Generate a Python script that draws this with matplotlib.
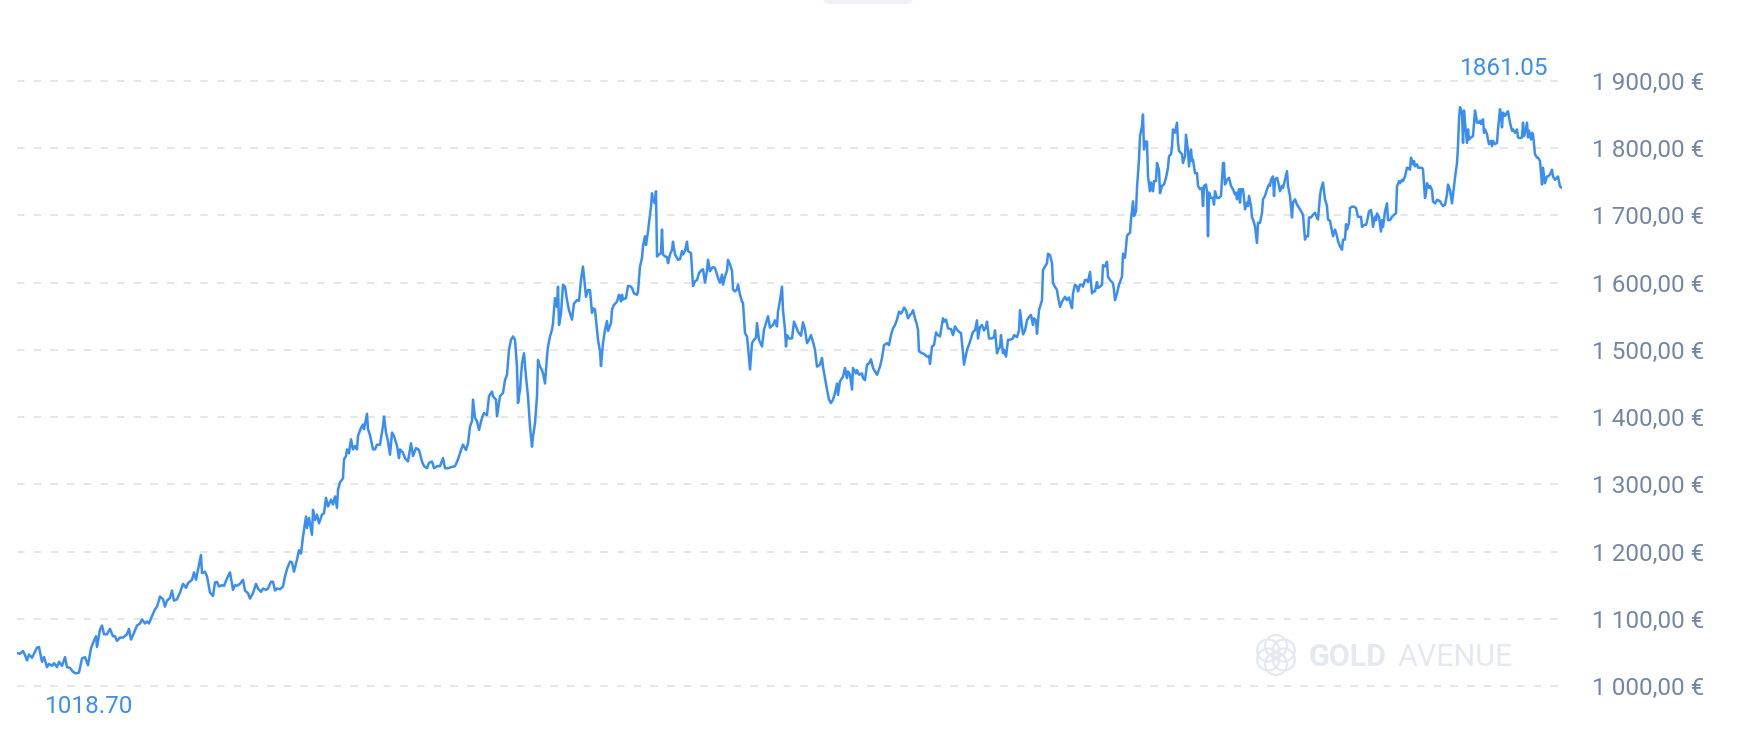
import matplotlib
matplotlib.use("Agg")
import math
import matplotlib.pyplot as plt
from matplotlib.patches import FancyBboxPatch, Circle
from matplotlib.ticker import FixedLocator, FuncFormatter

# ---------------- data: (day index, price in EUR) ----------------
seg_2018 = [(0, 1049), (3, 1048), (6, 1052), (8, 1046), (10, 1038), (12, 1047), (15, 1042), (17, 1048),
            (20, 1057), (22, 1058), (25, 1036), (27, 1043), (30, 1028), (32, 1033), (35, 1030), (37, 1034),
            (40, 1028), (42, 1036), (45, 1030), (48, 1043), (50, 1028), (53, 1027), (56, 1021), (59, 1018.70),
            (62, 1020), (65, 1041), (68, 1043), (71, 1031), (74, 1056), (76, 1064), (79, 1074), (80, 1058),
            (83, 1084), (85, 1090), (87, 1077), (90, 1077), (93, 1085), (96, 1074), (98, 1074), (100, 1067),
            (103, 1072), (106, 1072), (110, 1077), (112, 1085), (114, 1069), (117, 1079), (120, 1090),
            (123, 1093), (125, 1099), (128, 1093), (130, 1096), (132, 1093), (135, 1104), (138, 1114),
            (140, 1118), (143, 1133), (146, 1129), (148, 1118), (150, 1127), (153, 1131), (155, 1142),
            (157, 1127), (160, 1129), (163, 1139), (166, 1152), (169, 1146), (171, 1153), (175, 1158),
            (177, 1169), (179, 1158), (181, 1173), (184, 1195), (185, 1168), (188, 1170), (190, 1163),
            (193, 1139)]

seg_2019 = [(196, 1134), (198, 1154), (200, 1155), (202, 1148), (205, 1150), (207, 1149), (210, 1160),
            (213, 1169), (216, 1143), (218, 1150), (220, 1149), (223, 1152), (226, 1158), (228, 1142),
            (231, 1138), (233, 1130), (236, 1138), (239, 1152), (241, 1145), (244, 1140), (246, 1145),
            (249, 1143), (251, 1145), (254, 1155), (256, 1155), (258, 1142), (260, 1145), (263, 1144),
            (266, 1148), (268, 1163), (270, 1174), (273, 1185), (275, 1184), (277, 1170), (280, 1188),
            (282, 1202), (284, 1197), (286, 1222), (287, 1232), (289, 1252), (290, 1235), (292, 1250),
            (295, 1225), (296, 1262), (298, 1247), (300, 1255), (302, 1242), (305, 1255), (307, 1257),
            (309, 1280), (311, 1267), (314, 1277), (316, 1270), (318, 1282), (320, 1265), (321, 1292),
            (323, 1303), (326, 1309), (327, 1337), (329, 1342), (330, 1352), (332, 1346), (334, 1367),
            (336, 1352), (338, 1357), (340, 1352), (341, 1372), (344, 1384), (346, 1389), (347, 1382),
            (350, 1405), (351, 1382), (353, 1373), (356, 1352), (358, 1352), (360, 1359), (363, 1359),
            (366, 1387), (367, 1401), (369, 1377), (371, 1364), (373, 1344), (375, 1377), (377, 1372),
            (380, 1357), (382, 1339), (383, 1352)]

seg_2020a = [(386, 1347), (388, 1339), (391, 1334), (394, 1361), (396, 1342), (399, 1354), (402, 1351),
             (405, 1334), (407, 1327), (410, 1324), (412, 1332), (415, 1334), (417, 1324), (420, 1327),
             (423, 1327), (426, 1339), (428, 1324), (431, 1324), (435, 1326), (438, 1327), (441, 1337),
             (444, 1351), (446, 1359), (449, 1351), (451, 1361), (453, 1386), (455, 1394), (456, 1426),
             (458, 1399), (460, 1394), (462, 1381), (465, 1399), (467, 1406), (470, 1403), (472, 1431),
             (475, 1438), (476, 1431), (479, 1426), (480, 1401), (483, 1431), (486, 1436), (488, 1455),
             (490, 1463), (492, 1500), (494, 1515), (496, 1520), (498, 1515), (500, 1475), (501, 1421),
             (503, 1441), (505, 1480), (507, 1495), (509, 1460), (511, 1431), (513, 1386), (515, 1356),
             (516, 1371), (518, 1391), (520, 1431), (521, 1485), (523, 1475), (525, 1470), (526, 1465),
             (528, 1450), (530, 1490), (531, 1505), (533, 1520), (535, 1530), (536, 1540), (538, 1577),
             (540, 1564), (541, 1594), (542, 1537), (544, 1554), (546, 1597), (548, 1594), (550, 1574),
             (552, 1559), (555, 1545), (557, 1569), (560, 1574), (562, 1573), (564, 1604), (566, 1624),
             (567, 1609), (569, 1579), (571, 1589), (573, 1589)]

seg_2020b = [(575, 1555), (576, 1562), (578, 1560), (580, 1530), (581, 1515), (583, 1498), (584, 1476),
             (586, 1510), (588, 1530), (590, 1543), (591, 1528), (594, 1540), (595, 1560), (597, 1567),
             (599, 1570), (600, 1572), (602, 1582), (604, 1572), (605, 1582), (606, 1575), (609, 1577),
             (611, 1595), (613, 1595), (615, 1592), (617, 1584), (620, 1582), (621, 1587), (623, 1624),
             (625, 1637), (626, 1654), (628, 1669), (629, 1656), (631, 1676), (632, 1689), (634, 1713),
             (635, 1733), (636, 1723), (638, 1718), (639, 1736), (640, 1639), (642, 1642), (644, 1644),
             (645, 1679), (646, 1642), (648, 1639), (650, 1638), (651, 1629), (653, 1642), (655, 1649),
             (656, 1661), (658, 1642), (660, 1637), (661, 1634), (663, 1635), (665, 1647), (666, 1642),
             (668, 1647), (670, 1661), (671, 1647), (674, 1644), (675, 1619), (676, 1595), (678, 1602),
             (680, 1604), (682, 1614), (684, 1618), (686, 1620), (688, 1600), (690, 1618), (691, 1634),
             (693, 1617), (695, 1622), (696, 1623), (698, 1622), (700, 1612), (701, 1607), (703, 1600),
             (705, 1612), (706, 1597), (708, 1609), (710, 1618), (711, 1634), (713, 1627), (715, 1618),
             (716, 1590), (718, 1587), (720, 1590), (721, 1597), (723, 1582), (725, 1572), (726, 1570),
             (728, 1525), (730, 1520), (731, 1505), (733, 1471), (735, 1510), (737, 1515), (739, 1518),
             (740, 1540), (742, 1515), (745, 1505), (747, 1530), (749, 1540), (751, 1550), (753, 1533)]

seg_2021 = [(756, 1537), (758, 1544), (760, 1535), (761, 1557), (763, 1574), (765, 1594), (766, 1559),
            (768, 1530), (769, 1505), (770, 1522), (772, 1517), (775, 1517), (777, 1542), (779, 1535),
            (781, 1527), (784, 1521), (786, 1541), (788, 1530), (790, 1510), (792, 1515), (794, 1522),
            (796, 1512), (798, 1500), (800, 1475), (803, 1478), (805, 1488), (806, 1475), (808, 1458),
            (810, 1441), (812, 1426), (814, 1421), (816, 1426), (818, 1436), (820, 1450), (821, 1433),
            (823, 1453), (825, 1458), (826, 1460), (828, 1473), (830, 1458), (831, 1468), (833, 1463),
            (835, 1441), (836, 1473), (839, 1465), (840, 1470), (842, 1463), (845, 1465), (846, 1458),
            (848, 1455), (850, 1478), (852, 1480), (854, 1486), (856, 1473), (858, 1468), (860, 1463),
            (863, 1475), (865, 1488), (867, 1507), (870, 1510), (872, 1507), (874, 1522), (876, 1532),
            (878, 1537), (880, 1545), (882, 1557), (884, 1554), (886, 1559), (887, 1563), (889, 1559),
            (891, 1547), (893, 1552), (895, 1555), (896, 1559), (898, 1547), (900, 1537), (901, 1530),
            (902, 1498), (905, 1495), (907, 1494), (910, 1490), (912, 1491), (913, 1479), (915, 1505),
            (917, 1507), (919, 1526), (921, 1522), (923, 1520), (926, 1547), (927, 1542), (929, 1545),
            (931, 1532), (934, 1531), (936, 1522), (938, 1535), (940, 1530), (942, 1527), (944, 1525),
            (946, 1495), (947, 1478), (950, 1500), (953, 1512)]

seg_2022a = [(956, 1527), (958, 1529), (960, 1544), (961, 1517), (963, 1534), (965, 1537), (967, 1529),
             (969, 1534), (970, 1542), (972, 1517), (975, 1517), (977, 1519), (978, 1529), (980, 1495),
             (981, 1500), (983, 1504), (984, 1522), (986, 1495), (987, 1500), (989, 1490), (991, 1515),
             (993, 1515), (996, 1517), (997, 1522), (1000, 1519), (1002, 1529), (1003, 1559), (1005, 1534),
             (1006, 1523), (1008, 1529), (1010, 1544), (1012, 1549), (1014, 1552), (1016, 1537),
             (1017, 1547), (1019, 1544), (1020, 1524), (1022, 1559), (1024, 1569), (1025, 1574),
             (1026, 1619), (1028, 1624), (1030, 1629), (1031, 1643), (1033, 1641), (1035, 1629),
             (1036, 1599), (1038, 1594), (1040, 1589), (1041, 1579), (1043, 1564), (1045, 1572),
             (1046, 1574), (1048, 1579), (1050, 1574), (1052, 1578), (1053, 1572), (1055, 1562),
             (1056, 1584), (1058, 1597), (1060, 1594), (1061, 1587), (1063, 1597), (1065, 1597),
             (1066, 1594), (1068, 1604), (1070, 1604), (1071, 1601), (1073, 1616), (1075, 1584),
             (1076, 1587), (1078, 1587), (1080, 1601), (1081, 1592), (1083, 1594), (1085, 1597),
             (1086, 1626), (1088, 1624), (1090, 1631), (1091, 1609), (1093, 1604), (1096, 1599),
             (1097, 1589), (1098, 1574), (1100, 1584), (1102, 1597), (1105, 1609), (1106, 1643),
             (1108, 1637), (1110, 1669), (1111, 1672), (1113, 1674), (1114, 1694), (1116, 1721),
             (1117, 1699), (1119, 1706), (1120, 1741), (1122, 1783), (1123, 1818), (1125, 1833),
             (1126, 1850), (1127, 1798), (1128, 1810), (1130, 1810), (1131, 1758), (1133, 1736),
             (1134, 1749), (1136, 1736), (1137, 1751), (1139, 1751), (1140, 1778), (1142, 1768),
             (1143, 1733)]

seg_2022b = [(1145, 1744), (1147, 1746), (1149, 1756), (1151, 1771), (1152, 1788), (1154, 1791),
             (1155, 1803), (1156, 1828), (1158, 1823), (1160, 1838), (1161, 1808), (1162, 1796),
             (1165, 1791), (1166, 1778), (1168, 1788), (1169, 1820), (1171, 1796), (1172, 1773),
             (1174, 1798), (1175, 1781), (1176, 1783), (1178, 1763), (1180, 1763), (1181, 1744),
             (1183, 1739), (1185, 1741), (1186, 1714), (1187, 1744), (1189, 1746), (1190, 1736),
             (1191, 1669), (1192, 1734), (1194, 1726), (1196, 1726), (1197, 1716), (1198, 1736),
             (1200, 1726), (1202, 1726), (1204, 1729), (1206, 1778), (1207, 1778), (1208, 1746),
             (1210, 1753), (1212, 1756), (1214, 1744), (1216, 1739), (1218, 1731), (1219, 1734),
             (1220, 1724), (1222, 1739), (1223, 1719), (1224, 1739), (1226, 1739), (1227, 1726),
             (1228, 1709), (1230, 1719), (1231, 1714), (1232, 1729), (1234, 1714), (1235, 1697),
             (1236, 1694), (1238, 1684), (1240, 1659), (1241, 1689), (1243, 1689), (1245, 1704),
             (1246, 1724), (1248, 1729), (1250, 1739), (1252, 1746), (1253, 1744), (1254, 1753),
             (1256, 1758), (1257, 1729), (1258, 1753), (1260, 1756), (1261, 1751), (1263, 1736),
             (1265, 1744), (1266, 1741), (1268, 1753), (1270, 1766), (1271, 1744), (1273, 1729),
             (1275, 1697), (1276, 1719), (1278, 1724), (1280, 1716), (1281, 1714), (1283, 1709),
             (1285, 1704), (1286, 1701), (1288, 1664), (1289, 1669), (1291, 1669), (1292, 1697),
             (1294, 1697), (1296, 1701), (1298, 1704), (1300, 1697), (1301, 1694), (1303, 1729),
             (1304, 1739), (1306, 1749), (1307, 1736), (1308, 1724), (1310, 1714), (1311, 1694),
             (1313, 1692), (1315, 1677), (1316, 1669), (1318, 1679), (1320, 1669), (1321, 1662),
             (1323, 1654), (1325, 1649), (1326, 1664), (1328, 1664), (1329, 1687), (1330, 1679),
             (1332, 1689), (1333, 1711)]

seg_2023 = [(1335, 1713), (1337, 1713), (1339, 1711), (1341, 1698), (1344, 1698), (1345, 1683),
            (1347, 1686), (1349, 1686), (1350, 1691), (1352, 1706), (1354, 1708), (1355, 1698),
            (1356, 1683), (1358, 1698), (1359, 1693), (1360, 1703), (1362, 1698), (1364, 1676),
            (1365, 1693), (1366, 1683), (1368, 1706), (1370, 1718), (1371, 1693), (1373, 1693),
            (1375, 1698), (1377, 1701), (1379, 1703), (1380, 1743), (1382, 1751), (1383, 1748),
            (1385, 1753), (1386, 1751), (1388, 1758), (1390, 1771), (1391, 1771), (1393, 1768),
            (1394, 1786), (1396, 1776), (1397, 1781), (1398, 1773), (1400, 1776), (1401, 1771),
            (1403, 1771), (1405, 1771), (1406, 1768), (1408, 1726), (1409, 1733), (1410, 1748),
            (1412, 1741), (1413, 1744), (1415, 1738), (1416, 1721), (1418, 1718), (1420, 1723),
            (1421, 1723), (1423, 1721), (1425, 1716), (1426, 1714), (1428, 1716), (1430, 1731),
            (1431, 1746), (1433, 1738), (1435, 1718), (1436, 1731), (1438, 1756), (1440, 1778),
            (1441, 1803), (1442, 1843), (1443, 1861.05), (1445, 1853), (1446, 1808), (1447, 1856),
            (1448, 1838), (1450, 1808), (1451, 1828), (1452, 1813), (1454, 1816), (1456, 1818),
            (1458, 1856), (1459, 1848), (1460, 1838), (1462, 1838), (1463, 1841), (1464, 1836),
            (1466, 1843), (1467, 1823), (1468, 1828), (1470, 1821), (1471, 1813), (1472, 1806),
            (1474, 1811), (1475, 1803), (1476, 1811), (1478, 1806), (1480, 1808), (1481, 1828),
            (1483, 1858), (1484, 1848), (1485, 1831), (1486, 1853), (1488, 1848), (1490, 1853),
            (1491, 1855), (1493, 1838), (1495, 1826), (1496, 1828), (1498, 1823), (1500, 1828),
            (1501, 1816), (1503, 1815), (1505, 1816), (1506, 1838), (1507, 1818), (1508, 1823),
            (1510, 1838), (1511, 1816), (1512, 1826), (1514, 1813), (1515, 1823), (1516, 1821),
            (1518, 1791), (1520, 1786), (1521, 1786), (1523, 1781), (1525, 1746), (1526, 1771),
            (1528, 1748), (1530, 1758), (1531, 1758), (1533, 1761), (1535, 1768), (1536, 1758),
            (1538, 1753), (1540, 1756), (1541, 1758), (1543, 1743), (1545, 1741)]

y_ticks = [1000, 1100, 1200, 1300, 1400, 1500, 1600, 1700, 1800, 1900]
watermark_bold = "GOLD"
watermark_light = "AVENUE"

# ---------------- assemble ----------------
points = seg_2018 + seg_2019 + seg_2020a + seg_2020b + seg_2021 + seg_2022a + seg_2022b + seg_2023
days = [p[0] for p in points]
prices = [p[1] for p in points]

LINE = "#3a8ef2"
TICK = "#7286a6"
GRID = "#e2e2e2"
WM = "#e4e9f1"

W, H = 1756, 742
fig = plt.figure(figsize=(W / 100, H / 100), dpi=100)
fig.patch.set_facecolor("white")

ax = fig.add_axes([17 / W, 0.05736, 1545 / W, 0.85613])
ax.set_facecolor("none")
ax.plot(days, prices, color=LINE, lw=1.8, solid_joinstyle="round", zorder=3)
ax.set_xlim(days[0], days[-1])
ax.set_ylim(980, 1925)

ax.yaxis.set_major_locator(FixedLocator(y_ticks))
ax.yaxis.set_major_formatter(FuncFormatter(lambda v, _: f"{int(v):,}".replace(",", " ") + ",00 €"))
ax.yaxis.tick_right()
ax.tick_params(axis="y", length=0, pad=21.5, labelsize=17.5, labelcolor=TICK)
for lab in ax.get_yticklabels():
    lab.set_family("Roboto")
ax.set_xticks([])
for s in ax.spines.values():
    s.set_visible(False)
ax.grid(axis="y", color=GRID, lw=1.2, linestyle=(0, (4.5, 5.5)), zorder=0)

# min / max annotations
i_max = prices.index(max(prices))
i_min = prices.index(min(prices))
ax.annotate(f"{prices[i_max]:.2f}", (days[i_max], prices[i_max]), xytext=(0, 32),
            textcoords="offset pixels", ha="left", va="baseline", color=LINE,
            fontsize=17.5, family="Roboto", annotation_clip=False)
ax.annotate(f"{prices[i_min]:.2f}", (days[i_min], prices[i_min]), xytext=(13, -40),
            textcoords="offset pixels", ha="center", va="baseline", color=LINE,
            fontsize=17.5, family="Roboto", annotation_clip=False)

# watermark
lax = fig.add_axes([1253 / W, (H - 678) / H, 46 / W, 46 / H])
lax.set_xlim(-1.15, 1.15)
lax.set_ylim(-1.15, 1.15)
lax.axis("off")
for k in range(6):
    a = math.radians(90 + 60 * k)
    lax.add_patch(Circle((0.45 * math.cos(a), 0.45 * math.sin(a)), 0.55, fill=False,
                         ec=WM, lw=1.6))
fig.text(1309 / W, 1 - 666 / H, watermark_bold, color=WM, fontsize=22,
         fontweight="bold", family="Roboto", va="baseline", ha="left")
fig.text(1398 / W, 1 - 666 / H, watermark_light, color=WM, fontsize=22,
         fontweight="normal", family="Roboto", va="baseline", ha="left")

# small tab at the top centre
tab = FancyBboxPatch((823, H - 4), 90, 20, boxstyle="round,pad=0,rounding_size=6",
                     transform=None, facecolor="#eef2f7", edgecolor="none")
fig.add_artist(tab)

fig.savefig("out.png", dpi=100, facecolor="white")
